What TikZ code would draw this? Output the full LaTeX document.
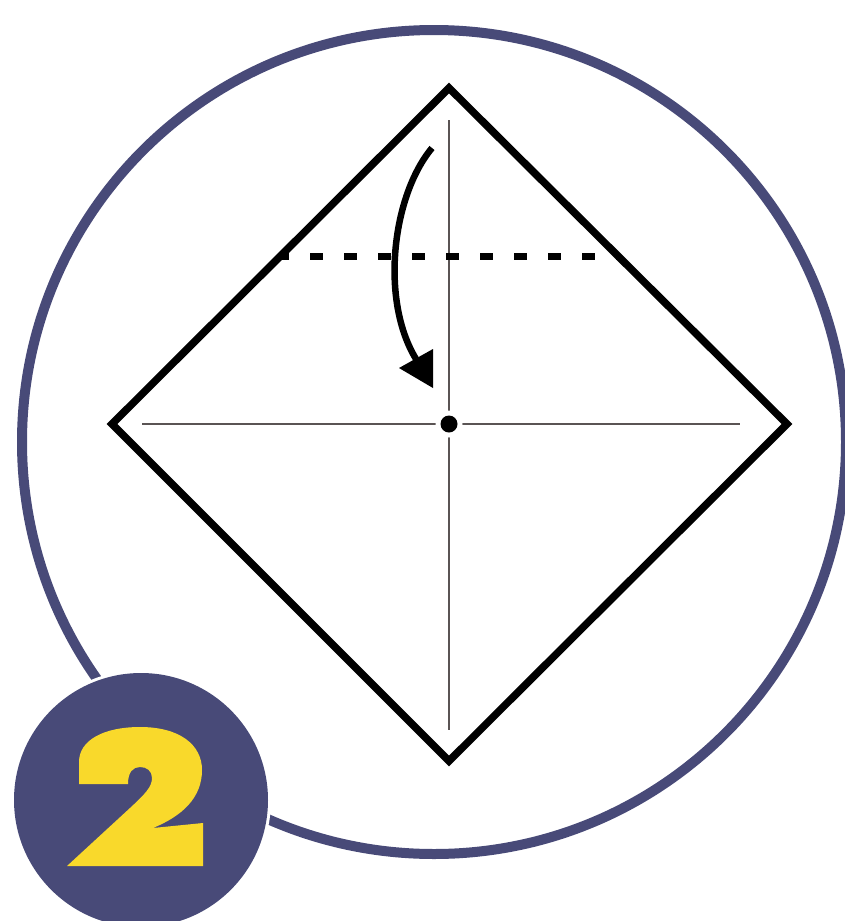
\documentclass[tikz,border=0pt]{standalone}
\usepackage{tikz}
\definecolor{ringblue}{RGB}{72,74,120}
\definecolor{numyellow}{RGB}{249,217,43}
\definecolor{crease}{RGB}{90,84,84}
\tikzset{
  paper/.style={draw=black,line width=7.5pt,line join=miter},
  creaseline/.style={draw=crease,line width=2.6pt},
  valley/.style={draw=black,line width=7pt,dash pattern=on 13pt off 21pt,dash phase=5pt},
  foldarrow/.style={draw=black,line width=6.5pt},
}
\begin{document}
\begin{tikzpicture}[x=1pt,y=-1pt]
\useasboundingbox (0,0) rectangle (844,921);
% outer ring
\draw[ringblue,line width=10pt] (434,442) circle[radius=412];
% paper
\coordinate (T) at (449,88);
\coordinate (L) at (112,424);
\coordinate (R) at (787,424);
\coordinate (B) at (449,761);
\coordinate (C) at (449,424);
% creases
\coordinate (vt) at (449,120);
\coordinate (vb) at (449,730);
\coordinate (hl) at (142,424);
\coordinate (hr) at (740,424);
\draw[creaseline] (vt) -- (vb);
\draw[creaseline] (hl) -- (hr);
\fill[white] (C) circle[radius=13.5];
\fill[black] (C) circle[radius=8.5];
% valley fold line
\coordinate (dl) at (281,256);
\coordinate (dr) at (619,256);
\draw[valley] (dl) -- (dr);
% diamond
\draw[paper] (T) -- (R) -- (B) -- (L) -- cycle;
% fold arrow
\coordinate (as) at (432,148);
\coordinate (ab) at (416,359);
\coordinate (tip) at (433,388);
\coordinate (h1) at (399,368);
\coordinate (h2) at (433,349);
\draw[foldarrow] (as) .. controls (392,196) and (380,300) .. (ab);
\fill[black] (tip) -- (h1) -- (h2) -- cycle;
% step badge
\fill[white] (141,800) circle[radius=130];
\fill[ringblue] (141,800) circle[radius=127];
\fill[numyellow] (79,784) -- (79,762)
  .. controls (79,740) and (104,727) .. (140,727)
  .. controls (180,727) and (202,745) .. (202,770)
  .. controls (202,798) and (182,816) .. (153,828)
  -- (203,823) -- (203,866) -- (67,866) -- (130,808)
  .. controls (145,794) and (152,787) .. (152,778)
  .. controls (152,771) and (147,767) .. (140,767)
  .. controls (133,767) and (128,772) .. (128,784)
  -- cycle;
\end{tikzpicture}
\end{document}
